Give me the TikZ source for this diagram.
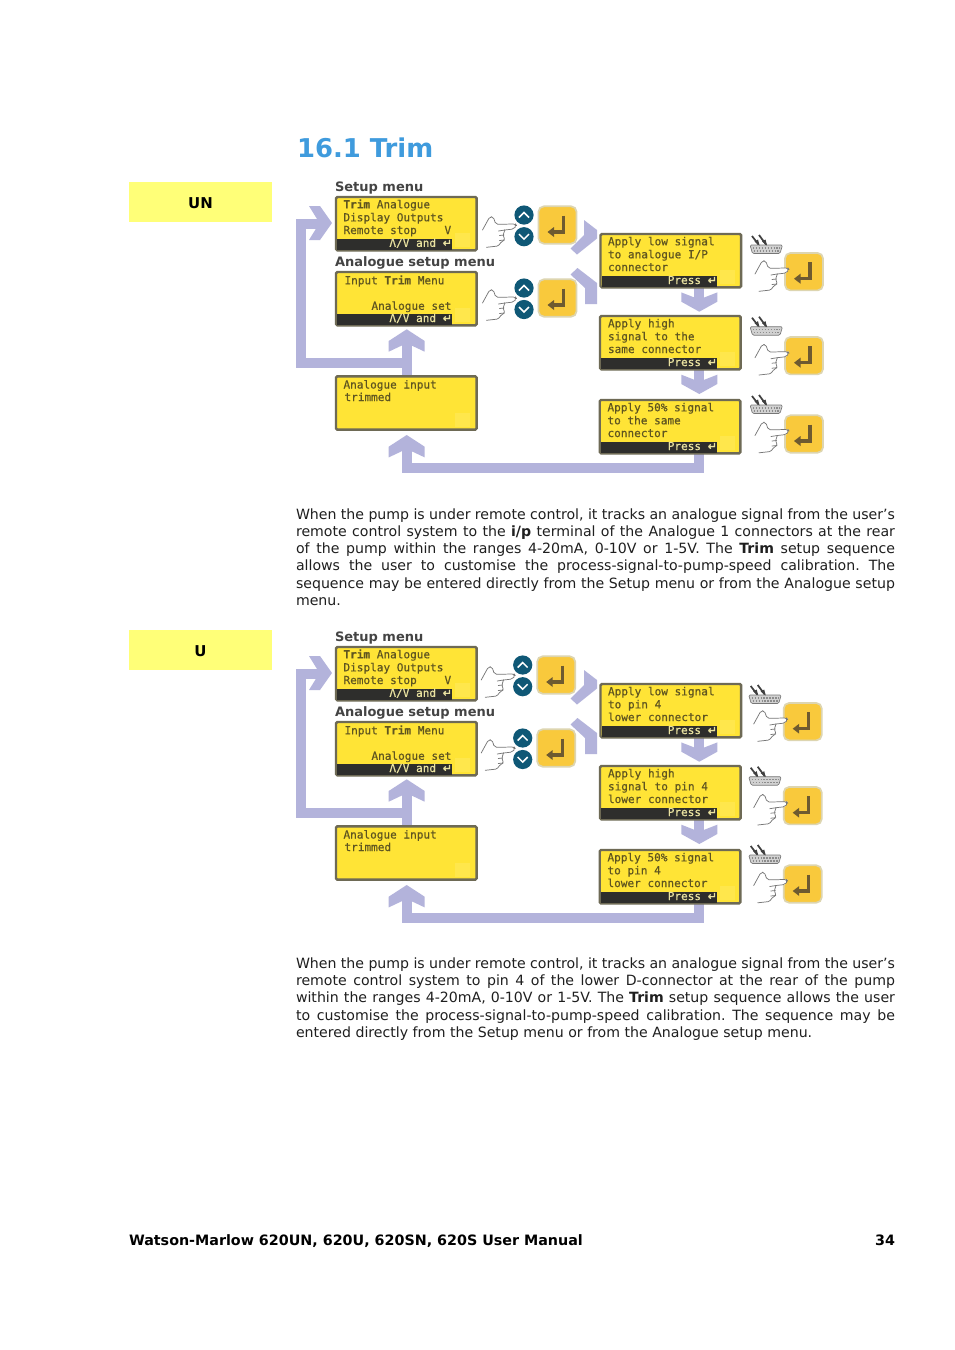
\documentclass[tikz,border=0pt]{standalone}
\usepackage{fontspec}
\setmainfont{DejaVu Sans}
\newfontfamily\lcdf[RawFeature={embolden=0.5}]{DejaVu Sans Mono}
\definecolor{lcdyellow}{HTML}{FFE436}
\definecolor{lcdglow}{HTML}{FFE74C}
\definecolor{lcdedge}{HTML}{6E6A55}
\definecolor{lcdink}{HTML}{5F5520}
\definecolor{barink}{HTML}{E9E2A0}
\definecolor{barfill}{HTML}{2E2E2C}
\definecolor{flow}{HTML}{B3B3DB}
\definecolor{btn}{HTML}{F9C93C}
\definecolor{btnedge}{HTML}{DDD5B0}
\definecolor{glyph}{HTML}{6E5A30}
\definecolor{navkey}{HTML}{0F5876}
\definecolor{headblue}{HTML}{3F9BDD}
\definecolor{tagyellow}{HTML}{FFFF78}
\definecolor{handink}{HTML}{777777}
\definecolor{titlegrey}{HTML}{444444}
\tikzset{
  lcdbox/.style={draw=lcdedge,line width=1.8pt,fill=lcdyellow,rounded corners=1pt,inner sep=0pt,outer sep=0pt,minimum width=105.5pt,minimum height=40pt},
  lcdbar/.style={fill=barfill,inner sep=0pt,outer sep=0pt},
  lcdtext/.style={anchor=base west,inner sep=0pt,outer sep=0pt,text=lcdink,font=\lcdf\fontsize{8.3}{10}\selectfont},
  bartext/.style={anchor=base east,inner sep=0pt,outer sep=0pt,text=barink,font=\lcdf\fontsize{8.3}{10}\selectfont},
  menutitle/.style={anchor=base west,inner sep=0pt,outer sep=0pt,text=titlegrey,font=\bfseries\fontsize{9.75}{12}\selectfont},
  stem/.style={draw=flow,line width=7.5pt,line join=miter,line cap=butt},
  chevron/.style={fill=flow},
  enterkey/.style={draw=btnedge,line width=1.3pt,fill=btn,rounded corners=4pt,inner sep=0pt,outer sep=0pt,minimum width=28.5pt,minimum height=28pt},
  enterglyph/.style={draw=glyph,line width=2.4pt},
  navbutton/.style={circle,fill=navkey,inner sep=0pt,outer sep=0pt,minimum size=14.4pt},
  navmark/.style={draw=white,line width=1.1pt},
  handline/.style={draw=handink,line width=0.55pt,line join=round,line cap=round},
  bodytext/.style={anchor=base west,inner sep=0pt,outer sep=0pt,text=black!88,font=\frenchspacing\fontsize{10.6}{13}\selectfont},
  tagbox/.style={fill=tagyellow,inner sep=0pt,outer sep=0pt,minimum width=107.25pt,minimum height=30pt,text height=9.6pt,text depth=0pt,font=\bfseries\fontsize{11.2}{13}\selectfont},
  footertext/.style={inner sep=0pt,outer sep=0pt,font=\bfseries\fontsize{10.72}{13}\selectfont},
}
\newcount\itemno
\newcommand\lcdline[3]{\global\advance\itemno by 1 \node[lcdtext] (n\the\itemno) at (#1,#2) {#3};}
\newcommand\barline[3]{\global\advance\itemno by 1 \node[bartext] (n\the\itemno) at (#1,#2) {#3};}
\newcommand\bodyline[2]{\global\advance\itemno by 1 \node[bodytext] (n\the\itemno) at (296,#1) {\makebox[449.25pt][s]{#2}};}
\newcommand\bodylast[2]{\global\advance\itemno by 1 \node[bodytext] (n\the\itemno) at (296,#1) {#2};}
% LCD: name, left, top, bar right
\newcommand\lcd[4]{%
  \node[lcdbox,anchor=north west] (#1) at (#2,#3) {};
  \fill[lcdglow] (#4+3,#3+36) rectangle (#4+18,#3+50);
  \global\advance\itemno by 1
  \node[lcdbar,anchor=north west,minimum width={(#4-#2-1)*0.75pt},minimum height=8.2pt] (n\the\itemno) at (#2+1,#3+41.6) {};
}
% enter key: name, centre x, y
\newcommand\enterkey[3]{%
  \node[enterkey] (#1) at (#2,#3) {};
  \draw[enterglyph] (#2+6,#3-9.5) -- (#2+6,#3+7) -- (#2-4,#3+7);
  \fill[glyph] (#2-10,#3+7) -- (#2-3.5,#3+2) -- (#2-3.5,#3+12) -- cycle;
}
% hand with fingertip at x,y
\newcommand\hand[2]{%
  \begin{scope}[shift={(#1,#2)}]
    \fill[white] (-34,6) -- (-26.7,-7.3) -- (-23.3,-7.3) -- (-20.7,0.3) -- (0,0) -- (-2.7,5) -- (-11.7,6) -- (-13.3,11) -- (-11.7,16) -- (-15,17.7) -- (-18.3,22) -- (-30,23.3) -- cycle;
    \draw[handline,rounded corners=1.5pt] (-34,6) -- (-26.7,-7.3) -- (-23.3,-7.3) -- (-20.7,0.3) -- (-1,0) -- (0,1.5) -- (-2.7,5) -- (-11.7,6);
    \draw[handline,rounded corners=1pt] (-11.7,6) -- (-13.3,11) -- (-11.7,16) -- (-15,17.7) -- (-18.3,22) -- (-30,23.3);
    \draw[handline] (-18,7) -- (-11.7,6) (-17,11.5) -- (-12.5,11) (-17,16.5) -- (-12,16);
  \end{scope}
}
% up/down keys: name, x, y up, y down
\newcommand\navkeys[4]{%
  \node[navbutton] (#1u) at (#2,#3) {};
  \node[navbutton] (#1d) at (#2,#4) {};
  \draw[navmark] (#2-5,#3+2.5) -- (#2,#3-2.5) -- (#2+5,#3+2.5);
  \draw[navmark] (#2-5,#4-2.5) -- (#2,#4+2.5) -- (#2+5,#4-2.5);
}
% D connector with probes: x, y of top left
\newcommand\dconn[2]{%
  \begin{scope}[shift={(#1,#2)}]
    \draw[draw=handink,fill=black!18,line width=0.5pt,rounded corners=1pt] (0,0) -- (32.5,0) -- (30,8.5) -- (2.5,8.5) -- cycle;
    \draw[draw=black!45,line width=1pt,dash pattern=on 1.1pt off 1.1pt] (3,3) -- (30,3) (4,6) -- (29,6);
    \draw[draw=black!75,line width=1.3pt] (2,-9) -- (8.5,-0.5) (9,-10) -- (16,-0.5);
    \fill[black!75] (9.5,0.5) -- (4.5,-3.5) -- (8,-5.5) -- cycle (17,0.5) -- (12,-3.5) -- (15.5,-5.5) -- cycle;
  \end{scope}
}
\newcommand\chevup[2]{\fill[chevron] (#1,#2) -- ++(18,11.7) -- ++(0,10.7) -- ++(-18,-8.5) -- ++(-18,8.5) -- ++(0,-10.7) -- cycle;}
\newcommand\chevdown[2]{\fill[chevron] (#1,#2) -- ++(18,-10) -- ++(0,-9.3) -- ++(-18,7) -- ++(-18,-7) -- ++(0,9.3) -- cycle;}
\newcommand\trimflow[3]{%
\begin{scope}[shift={(0,#2)}]
  \coordinate (#1loop) at (301,363.2);
  \coordinate (#1intoSetup) at (322,224);
  \coordinate (#1intoAnalogue) at (406.5,340);
  \coordinate (#1cOut) at (699,452);
  \coordinate (#1base) at (699,467.7);
  \coordinate (#1intoResult) at (406.5,446);
  \coordinate (#1aOut) at (699,286);
  \coordinate (#1bIn) at (699,304);
  \coordinate (#1bOut) at (699,368);
  \coordinate (#1cIn) at (699,388);
  \coordinate (#1rOut) at (406.5,378);
  \draw[stem] (#1rOut) |- (#1loop) |- (#1intoSetup);
  \draw[stem] (#1rOut) -- (#1intoAnalogue);
  \draw[stem] (#1cOut) -- (#1base) -| (#1intoResult);
  \draw[stem] (#1aOut) -- (#1bIn);
  \draw[stem] (#1bOut) -- (#1cIn);
  \fill[chevron] (309,206) -- (320,206) -- (332,223) -- (320,240) -- (309,240) -- (319.5,223) -- cycle;
  \chevup{406.7}{329.3}
  \chevup{406.7}{435}
  \chevdown{699.3}{311.7}
  \chevdown{699.3}{394}
  \fill[chevron] (584,220) -- (597,230) -- (597,238.5) -- (577,254.5) -- (570.5,248.5) -- (584,235) -- cycle;
  \fill[chevron] (570.5,274.5) -- (577.5,268) -- (597,283) -- (597,304) -- (585,304) -- (585,288) -- cycle;
  \lcd{#1p1}{336}{197}{452}
  \lcd{#1p2}{336}{272}{452}
  \node[lcdbox,anchor=north west] (#1p3) at (336,376.3) {};
  \fill[lcdglow] (455,413) rectangle (470,427);
  \lcd{#1pa}{600.5}{234}{717}
  \lcd{#1pb}{600}{316}{717}
  \lcd{#1pc}{599.7}{400}{717}
  \node[menutitle] (#1t1) at (335,191) {Setup menu};
  \node[menutitle] (#1t2) at (335,266.7) {Analogue setup menu};
  \lcdline{343.5}{208.3}{\textbf{Trim} Analogue}
  \lcdline{343.5}{221.3}{Display Outputs}
  \lcdline{343.5}{234}{Remote stop}
  \lcdline{444.5}{234}{V}
  \barline{452}{246.8}{Λ/V and {\fontspec{DejaVu Sans}[RawFeature={embolden=1.5}]↵}}
  \lcdline{344.5}{284.3}{Input \textbf{Trim} Menu}
  \lcdline{371.5}{309.8}{Analogue set}
  \barline{452}{322}{Λ/V and {\fontspec{DejaVu Sans}[RawFeature={embolden=1.5}]↵}}
  \lcdline{343.5}{388.5}{Analogue input}
  \lcdline{344.5}{401}{trimmed}
  \lcdline{608}{245.3}{\Aa}
  \lcdline{608}{258.3}{\Ab}
  \lcdline{608}{271}{\Ac}
  \barline{717}{284}{Press {\fontspec{DejaVu Sans}[RawFeature={embolden=1.5}]↵}}
  \lcdline{608}{327.3}{\Ba}
  \lcdline{608}{340.3}{\Bb}
  \lcdline{608}{353}{\Bc}
  \barline{717}{366}{Press {\fontspec{DejaVu Sans}[RawFeature={embolden=1.5}]↵}}
  \lcdline{607.5}{411.3}{\Ca}
  \lcdline{607.5}{424.3}{\Cb}
  \lcdline{607.5}{437}{\Cc}
  \barline{717}{450}{Press {\fontspec{DejaVu Sans}[RawFeature={embolden=1.5}]↵}}
  \begin{scope}[shift={(#3,0)}]
    \navkeys{#1k1}{524}{215}{236.7}
    \navkeys{#1k2}{524}{288}{309.5}
    \enterkey{#1e1}{557.5}{225}
    \enterkey{#1e2}{557.5}{298}
    \hand{516.5}{224}
    \hand{516.5}{297}
    \enterkey{#1ea}{804}{271.7}
    \enterkey{#1eb}{804}{355.7}
    \enterkey{#1ec}{804}{434}
    \dconn{750}{245}
    \dconn{750}{326.7}
    \dconn{750}{405}
    \hand{789}{268}
    \hand{789}{351.7}
    \hand{789}{429.5}
  \end{scope}
\end{scope}
}
\begin{document}
\begin{tikzpicture}[x=0.75pt,y=-0.75pt]
\fill[white] (0,0) rectangle (954,1350);
\useasboundingbox (0,0) rectangle (954,1350);
\node[anchor=base west,inner sep=0pt,outer sep=0pt,text=headblue,font=\bfseries\fontsize{19.4}{23}\selectfont] (heading) at (297,157) {16.1 Trim};
\node[tagbox,anchor=north west] (tagUN) at (129,182) {UN};
\node[tagbox,anchor=north west] (tagU) at (129,630) {U};
\def\Aa{Apply low signal}\def\Ab{to analogue I/P}\def\Ac{connector}
\def\Ba{Apply high}\def\Bb{signal to the}\def\Bc{same connector}
\def\Ca{Apply 50\% signal}\def\Cb{to the same}\def\Cc{connector}
\trimflow{a}{0}{0}
\def\Aa{Apply low signal}\def\Ab{to pin 4}\def\Ac{lower connector}
\def\Ba{Apply high}\def\Bb{signal to pin 4}\def\Bc{lower connector}
\def\Ca{Apply 50\% signal}\def\Cb{to pin 4}\def\Cc{lower connector}
\trimflow{b}{450}{-1.3}
\bodyline{519}{When the pump is under remote control, it tracks an analogue signal from the user’s}
\bodyline{536.3}{remote control system to the \textbf{i/p} terminal of the Analogue 1 connectors at the rear}
\bodyline{553.6}{of the pump within the ranges 4-20mA, 0-10V or 1-5V. The \textbf{Trim} setup sequence}
\bodyline{570.8}{allows the user to customise the process-signal-to-pump-speed calibration. The}
\bodyline{588}{sequence may be entered directly from the Setup menu or from the Analogue setup}
\bodylast{605.3}{menu.}
\bodyline{968.3}{When the pump is under remote control, it tracks an analogue signal from the user’s}
\bodyline{985.6}{remote control system to pin 4 of the lower D-connector at the rear of the pump}
\bodyline{1002.9}{within the ranges 4-20mA, 0-10V or 1-5V. The \textbf{Trim} setup sequence allows the user}
\bodyline{1020.1}{to customise the process-signal-to-pump-speed calibration. The sequence may be}
\bodylast{1037.4}{entered directly from the Setup menu or from the Analogue setup menu.}
\node[footertext,anchor=base west] (foot) at (129,1245) {Watson-Marlow 620UN, 620U, 620SN, 620S User Manual};
\node[footertext,anchor=base east] (page) at (895,1245) {34};
\end{tikzpicture}
\end{document}
